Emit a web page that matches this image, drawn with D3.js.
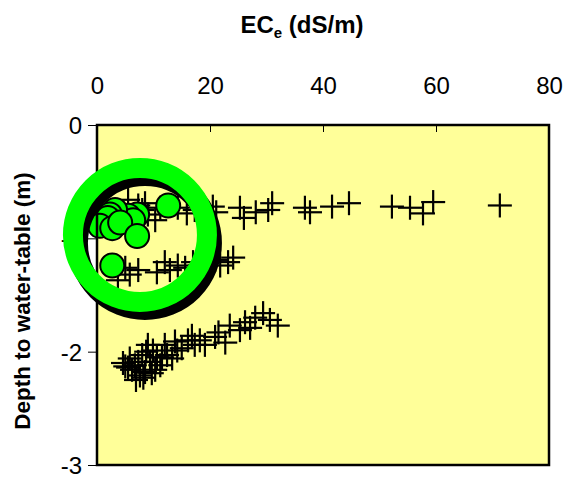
<!DOCTYPE html>
<html><head><meta charset="utf-8">
<script src="https://cdn.jsdelivr.net/npm/d3@7"></script>
<style>body{margin:0;background:#fff}svg{display:block}text{font-family:"Liberation Sans",Arial,sans-serif}</style>
</head><body>
<script>
const xTicks = [0,20,40,60,80];
const yTicks = [0,-1,-2,-3];
// Crosses: ECe (dS/m) and depth to water-table (m)
const crossEC = [71.3,59.5,57.7,55.4,52.2,44.6,41.6,37.7,36.8,31.0,30.3,28.1,26.0,25.3,21.1,20.5,
  5.5,7.3,8.0,8.5,9.0,11.2,15.9,14.3,17.3,4.1,6.2,10.3,
  24.1,23.2,21.8,20.9,18.2,17.0,15.6,14.3,12.9,12.0,10.6,7.3,5.8,5.0,3.7,
  32.0,30.6,29.4,28.0,27.1,26.2,25.3,23.5,22.7,20.9,19.1,18.2,17.3,16.1,15.0,14.2,13.3,12.4,11.5,10.6,9.9,9.4,8.7,8.0,7.3,6.7,6.2,5.8,5.5,5.0,7.6,8.5,10.3,11.2,9.0,12.0,
  6.9,8.2,9.7,4.6,13.8,16.8,21.5];
const crossDepth = [-0.71,-0.68,-0.78,-0.73,-0.72,-0.69,-0.72,-0.77,-0.73,-0.69,-0.75,-0.77,-0.82,-0.73,-0.77,-0.72,
  -0.66,-0.71,-0.75,-0.69,-0.79,-0.73,-0.78,-0.73,-0.75,-0.82,-0.86,-0.84,
  -1.17,-1.21,-1.24,-1.19,-1.24,-1.21,-1.26,-1.24,-1.28,-1.21,-1.30,-1.28,-1.32,-1.26,-1.37,
  -1.77,-1.72,-1.66,-1.70,-1.79,-1.74,-1.81,-1.77,-1.92,-1.87,-1.94,-1.90,-1.94,-1.90,-1.97,-1.99,-2.06,-2.03,-2.05,-2.05,-1.99,-2.09,-2.00,-2.03,-2.09,-2.12,-2.16,-2.06,-2.14,-2.13,-2.21,-2.18,-2.16,-2.12,-1.94,-1.94,
  -2.25,-2.23,-2.19,-2.10,-1.91,-1.86,-1.83];
// Green circles
const circEC = [12.6,7.1,5.5,6.4,3.2,2.3,1.9,0.5,2.7,4.1,7.1,2.7];
const circDepth = [-0.71,-0.79,-0.80,-0.84,-0.75,-0.79,-0.82,-0.89,-0.91,-0.86,-0.98,-1.24];
// Highlight ring (annotation) centre in data units
const ringEC = [7.6];
const ringDepth = [-0.97];

const W=566,H=478, L=97,R=549,T=125,B=465;
const FONT="Liberation Sans, Arial, sans-serif";
const svg=d3.select("body").append("svg").attr("width",W).attr("height",H);
const x=d3.scaleLinear().domain([0,80]).range([L,R]);
const y=d3.scaleLinear().domain([0,-3]).range([T,B]);
const fmt=d=>String(d);

svg.append("rect").attr("x",L).attr("y",T).attr("width",R-L).attr("height",B-T).attr("fill","#FFFF99");

// x axis on top, ticks inward
const xa=svg.append("g").attr("transform",`translate(0,${T})`)
 .call(d3.axisTop(x).tickValues(xTicks).tickSize(-7).tickPadding(31).tickFormat(fmt));
xa.select(".domain").remove();
xa.selectAll("line").attr("stroke","#000");
xa.selectAll("text").attr("font-size",24).attr("fill","#000").attr("font-family",FONT);

const ya=svg.append("g").attr("transform",`translate(${L},0)`)
 .call(d3.axisLeft(y).tickValues(yTicks).tickSize(9).tickPadding(6).tickFormat(fmt));
ya.select(".domain").remove();
ya.selectAll("line").attr("stroke","#000");
ya.selectAll("text").attr("font-size",24).attr("fill","#000").attr("font-family",FONT).attr("dy","0.36em");

// crosses
const crosses=crossEC.map((v,i)=>({x:v,y:crossDepth[i]}));
const cs=12;
const cg=svg.append("g").attr("stroke","#000").attr("stroke-width",2.2);
crosses.forEach(d=>{
  cg.append("line").attr("x1",x(d.x)-cs).attr("x2",x(d.x)+cs).attr("y1",y(d.y)).attr("y2",y(d.y));
  cg.append("line").attr("x1",x(d.x)).attr("x2",x(d.x)).attr("y1",y(d.y)-cs).attr("y2",y(d.y)+cs);
});

// circles
const circs=circEC.map((v,i)=>({x:v,y:circDepth[i]}));
svg.append("g").selectAll("circle").data(circs).join("circle")
 .attr("cx",d=>x(d.x)).attr("cy",d=>y(d.y)).attr("r",12)
 .attr("fill","#00FF00").attr("stroke","#000").attr("stroke-width",2);

// border
svg.append("rect").attr("x",L).attr("y",T).attr("width",R-L).attr("height",B-T).attr("fill","none").attr("stroke","#000").attr("stroke-width",2.5);

// ring annotation
const rcx=x(ringEC[0]), rcy=y(ringDepth[0]);
svg.append("circle").attr("cx",rcx+5).attr("cy",rcy+8).attr("r",67).attr("fill","none").attr("stroke","#000").attr("stroke-width",20);
svg.append("circle").attr("cx",rcx).attr("cy",rcy).attr("r",67).attr("fill","none").attr("stroke","#00FF00").attr("stroke-width",20);

// titles
const t=svg.append("text").attr("x",302).attr("y",33).attr("text-anchor","middle").attr("font-size",24).attr("font-weight","bold");
t.append("tspan").text("EC");
t.append("tspan").text("e").attr("font-size",15).attr("dy",5);
t.append("tspan").text(" (dS/m)").attr("dy",-5);

svg.append("text").attr("transform","translate(30,301) rotate(-90)").attr("text-anchor","middle")
 .attr("font-size",22.5).attr("font-weight","bold").text("Depth to water-table (m)");
</script>
</body></html>
